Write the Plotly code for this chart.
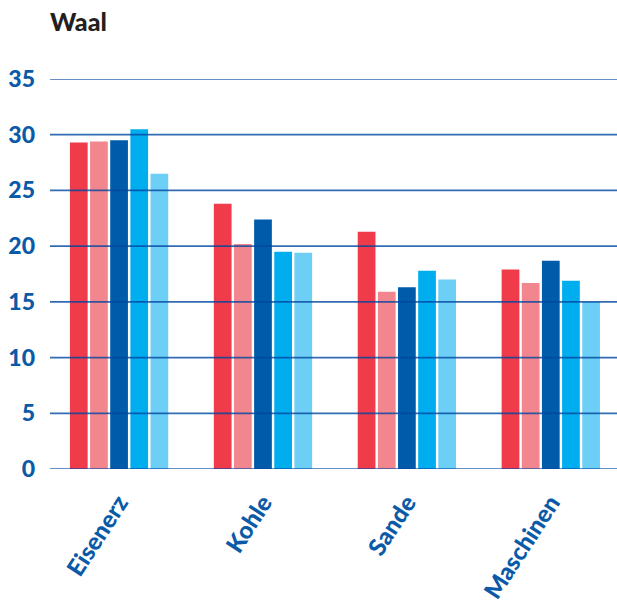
import plotly.graph_objects as go

# Güterarten und Werte je Reihe
categories = ["Eisenerz", "Kohle", "Sande", "Maschinen"]
series_names = ["Reihe 1", "Reihe 2", "Reihe 3", "Reihe 4", "Reihe 5"]
series_values = [
    [29.3, 23.8, 21.3, 17.9],
    [29.4, 20.2, 15.9, 16.7],
    [29.5, 22.4, 16.3, 18.7],
    [30.5, 19.5, 17.8, 16.9],
    [26.5, 19.4, 17.0, 15.0],
]
series_colors = ["#EF3B4A", "#F2868E", "#005BAA", "#00AEEF", "#6DCFF6"]
y_ticks = [0, 5, 10, 15, 20, 25, 30, 35]

BLUE = "#0A5AA8"
FONT = "Lato"

fig = go.Figure()
for name, vals, col in zip(series_names, series_values, series_colors):
    fig.add_trace(go.Bar(name=name, x=categories, y=vals, marker_color=col,
                         marker_line_width=0, showlegend=False))

# Gitterlinien über den Balken
for t in y_ticks:
    fig.add_shape(type="line", xref="paper", yref="y", x0=0, x1=1, y0=t, y1=t,
                  line=dict(color="rgba(0,70,160,0.8)", width=1.7), layer="above")

fig.update_layout(
    width=617, height=610,
    margin=dict(l=50, r=0, t=79, b=141),
    paper_bgcolor="white", plot_bgcolor="white",
    barmode="group", bargap=0.3, bargroupgap=0.12,
    title=dict(text="Waal", x=50 / 617, xanchor="left", y=1 - 22 / 610,
               yanchor="middle",
               font=dict(family=FONT, size=25, color="#231F20", weight=900)),
    xaxis=dict(range=[-0.48, 3.46], showgrid=False, zeroline=False, showline=False,
               tickangle=-57, ticks="", ticklabelstandoff=14,
               tickfont=dict(family=FONT, size=24, color=BLUE, weight=900)),
    yaxis=dict(range=[0, 35], tickvals=y_ticks, showgrid=False, zeroline=False,
               showline=False, ticks="", ticklabelstandoff=14,
               tickfont=dict(family=FONT, size=23, color=BLUE, weight=900)),
)

fig.write_html("out.html")
